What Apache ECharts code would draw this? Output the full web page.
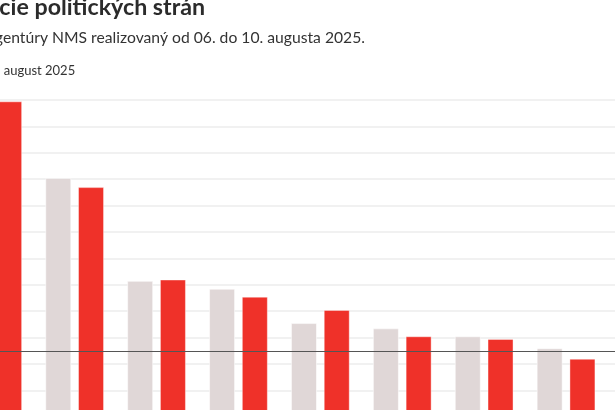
<!DOCTYPE html>
<html>
<head>
<meta charset="utf-8">
<script src="https://cdn.jsdelivr.net/npm/echarts@6/dist/echarts.min.js"></script>
<style>
  html, body { margin: 0; padding: 0; width: 615px; height: 410px; overflow: hidden; background: #fff; position: relative; }
  /* the chart box is larger than the page and shifted, so the page shows a crop of it */
  #chart { position: absolute; left: -100px; top: -10px; width: 900px; height: 480px; }
</style>
</head>
<body>
<div id="chart"></div>
<script>
// data
const categories = ['PS', 'Smer-SD', 'Hlas-SD', 'Republika', 'KDH', 'SaS', 'Slovensko', 'SNS', 'Maďarská aliancia', 'Demokrati'];
const julValues = [22.9, 18.1, 10.3, 9.7, 7.1, 6.7, 6.1, 5.2, 4.0, 3.1];
const augValues = [23.9, 17.4, 10.4, 9.1, 8.1, 6.1, 5.9, 4.4, 3.9, 2.8];
const seriesNames = ['júl 2025', 'august 2025'];
const threshold = 5;
const yMax = 24;
const yStep = 2;

const titleText = 'Preferencie politických strán';
const subText = 'Prieskum agentúry NMS realizovaný od 06. do 10. augusta 2025.';

const FONT = 'Lato, "Noto Sans", sans-serif';
const OX = 100, OY = 10; // offset of the chart box against the page

// measure text so the visible ends land where they should
const ctx = document.createElement('canvas').getContext('2d');
function tw(text, size, weight) {
  ctx.font = (weight || 'normal') + ' ' + size + 'px ' + FONT;
  return ctx.measureText(text).width;
}

const legendItemW = 14, legendGap = 10, legendSize = 13;
const legendLeft = OX + 1.7 - (legendItemW + 5 + tw(seriesNames[0], legendSize) + legendGap + legendItemW + 5);

const chart = echarts.init(document.getElementById('chart'));

const option = {
  animation: false,
  textStyle: { fontFamily: FONT },
  title: [
    {
      text: titleText,
      left: OX + 205 - tw(titleText, 23.2, 'bold'),
      top: OY - 3.5,
      padding: 0,
      textStyle: { fontFamily: FONT, fontSize: 23.2, fontWeight: 'bold', color: '#2b2b2b' }
    },
    {
      text: subText,
      left: OX + 365 - tw(subText, 15.7),
      top: OY + 29.5,
      padding: 0,
      textStyle: { fontFamily: FONT, fontSize: 15.7, fontWeight: 'normal', color: '#333' }
    }
  ],
  legend: {
    data: seriesNames,
    left: legendLeft,
    top: OY + 63,
    padding: 0,
    icon: 'rect',
    itemWidth: legendItemW,
    itemHeight: 14,
    itemGap: legendGap,
    textStyle: { fontFamily: FONT, fontSize: legendSize, color: '#333' }
  },
  grid: {
    left: 51.8,
    top: 110,
    right: 29.2,
    bottom: 53.2,
    containLabel: false
  },
  xAxis: {
    type: 'category',
    data: categories,
    axisTick: { show: false },
    axisLine: { show: false },
    axisLabel: { color: '#333', fontSize: 12 }
  },
  yAxis: {
    type: 'value',
    min: 0,
    max: yMax,
    interval: yStep,
    axisLine: { show: false },
    axisTick: { show: false },
    axisLabel: { color: '#666', formatter: '{value} %' },
    splitLine: { lineStyle: { color: '#ececec', width: 1.5 } }
  },
  series: [
    {
      name: seriesNames[0],
      type: 'bar',
      data: julValues,
      barWidth: 26,
      barGap: '26%',
      itemStyle: { color: '#e0d7d7', borderColor: 'rgba(255,255,255,0.5)', borderWidth: 1 }
    },
    {
      name: seriesNames[1],
      type: 'bar',
      data: augValues,
      barWidth: 26,
      itemStyle: { color: '#ef3129', borderColor: 'rgba(255,255,255,0.4)', borderWidth: 1 },
      markLine: {
        silent: true,
        symbol: 'none',
        label: { show: false },
        lineStyle: { color: '#555', width: 1.2, type: 'solid' },
        data: [{ yAxis: threshold }]
      }
    }
  ]
};

chart.setOption(option);
</script>
</body>
</html>
